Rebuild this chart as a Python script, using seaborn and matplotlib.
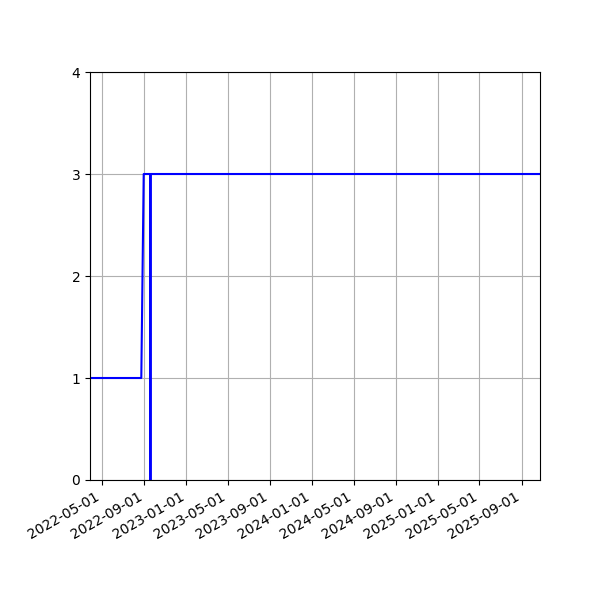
import matplotlib
matplotlib.use("Agg")
import matplotlib.pyplot as plt
import matplotlib.dates as mdates
import pandas as pd
import seaborn as sns

dates = ["2022-03-27 00:00", "2022-08-23 00:00", "2022-08-30 00:00", "2022-09-18 00:00",
         "2022-09-18 12:00", "2022-09-19 00:00", "2025-10-24 00:00"]
values = [1, 1, 3, 3, 0, 3, 3]

df = pd.DataFrame({"date": pd.to_datetime(dates, format="%Y-%m-%d %H:%M"), "value": values})

fig, ax = plt.subplots(figsize=(6, 6), dpi=100)
sns.lineplot(data=df, x="date", y="value", color="blue", estimator=None,
             sort=False, ax=ax, linewidth=1.5)

ax.set_xlim(df["date"].min(), df["date"].max())
ax.set_ylim(0, 4)
ax.set_yticks([0, 1, 2, 3, 4])
ax.xaxis.set_major_locator(mdates.MonthLocator(bymonth=[1, 5, 9]))
ax.xaxis.set_major_formatter(mdates.DateFormatter("%Y-%m-%d"))
ax.grid(True)
ax.set_xlabel("")
ax.set_ylabel("")
fig.autofmt_xdate()
fig.subplots_adjust(left=0.15, right=0.9, top=0.88, bottom=0.2)

fig.savefig("out.png", dpi=100)
